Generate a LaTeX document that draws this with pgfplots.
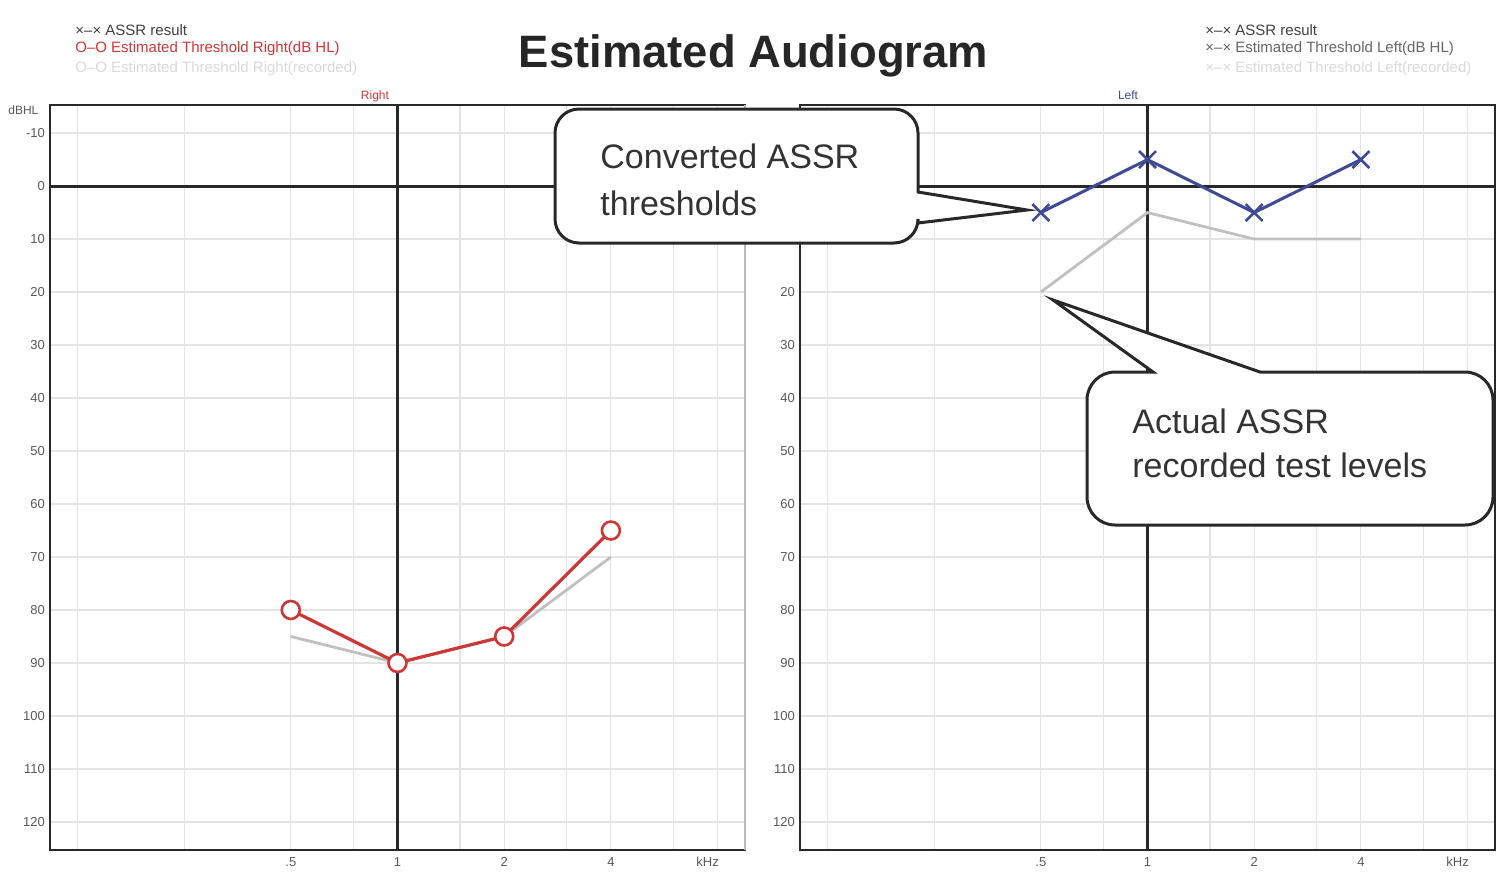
\documentclass[border=0pt]{standalone}
\usepackage{fontspec}
\setmainfont{Liberation Sans}
\usepackage{pgfplots}
\pgfplotsset{compat=1.18}

\definecolor{rightred}{RGB}{205,55,55}
\definecolor{leftblue}{RGB}{62,74,150}
\definecolor{recgray}{RGB}{192,192,192}
\definecolor{gridgray}{RGB}{228,228,228}
\definecolor{heavy}{RGB}{40,40,40}

\tikzset{refline/.style={heavy, line width=1.5pt}}

\begin{document}
\begin{tikzpicture}
\begin{scope}[x=0.5pt,y=-0.5pt]
  \path[use as bounding box] (0,0) rectangle (1499,894);
\end{scope}

% ---------- right ear ----------
\begin{axis}[
    at={(25pt,-425pt)}, anchor=south west,
    scale only axis, width=347.5pt, height=372.5pt,
    xmode=log, xmin=0.1046, xmax=9.56,
    ymin=-15.3, ymax=125.3, y dir=reverse,
    xtick={0.125,0.25,0.5,0.75,1,1.5,2,3,4,6,8}, xticklabels={},
    extra x ticks={0.5,1,2,4,7.5},
    extra x tick labels={.5,1,2,4,kHz},
    extra x tick style={grid=none},
    ytick={-10,0,...,120},
    yticklabels={-10,0,10,20,30,40,50,60,70,80,90,100,110,120},
    major tick length=0pt,
    xmajorgrids, ymajorgrids,
    major grid style={gridgray, line width=0.6pt},
    axis line style={heavy, line width=1.3pt},
    tick label style={font=\fontsize{6.5}{7}\selectfont, text=black!65},
    yticklabel style={xshift=1pt},
    clip=false,
  ]
  \draw[refline] (axis cs:0.1046,0) -- (axis cs:9.56,0);
  \draw[refline] (axis cs:1,-15.3) -- (axis cs:1,125.3);
  \draw[gray!55, line width=1.3pt] (rel axis cs:1,0) -- (rel axis cs:1,1);
  \addplot[recgray, line width=1.4pt] coordinates {(0.5,85) (1,90) (2,85) (4,70)};
  \addplot[rightred, line width=1.6pt, mark=*, mark size=4.5pt,
           mark options={fill=white, draw=rightred, line width=1.3pt}]
    coordinates {(0.5,80) (1,90) (2,85) (4,65)};
\end{axis}

% ---------- left ear ----------
\begin{axis}[
    at={(400pt,-425pt)}, anchor=south west,
    scale only axis, width=347.5pt, height=372.5pt,
    xmode=log, xmin=0.1046, xmax=9.56,
    ymin=-15.3, ymax=125.3, y dir=reverse,
    xtick={0.125,0.25,0.5,0.75,1,1.5,2,3,4,6,8}, xticklabels={},
    extra x ticks={0.5,1,2,4,7.5},
    extra x tick labels={.5,1,2,4,kHz},
    extra x tick style={grid=none},
    ytick={-10,0,...,120},
    yticklabels={-10,0,10,20,30,40,50,60,70,80,90,100,110,120},
    major tick length=0pt,
    xmajorgrids, ymajorgrids,
    major grid style={gridgray, line width=0.6pt},
    axis line style={heavy, line width=1.3pt},
    tick label style={font=\fontsize{6.5}{7}\selectfont, text=black!65},
    yticklabel style={xshift=1pt},
    clip=false,
  ]
  \draw[refline] (axis cs:0.1046,0) -- (axis cs:9.56,0);
  \draw[refline] (axis cs:1,-15.3) -- (axis cs:1,125.3);
  \addplot[recgray, line width=1.4pt] coordinates {(0.5,20) (1,5) (2,10) (4,10)};
  \addplot[leftblue, line width=1.5pt, mark=x, mark size=6pt,
           mark options={line width=1.3pt}]
    coordinates {(0.5,5) (1,-5) (2,5) (4,-5)};
\end{axis}

\begin{scope}[x=0.5pt,y=-0.5pt]
  % title and panel captions
  \node[anchor=base, font=\bfseries\fontsize{22.7}{26}\selectfont, text=black!85]
    at (753.5,67) {Estimated Audiogram};
  \node[anchor=base, font=\fontsize{6}{7}\selectfont, text=rightred] at (375,99) {Right};
  \node[anchor=base, font=\fontsize{6}{7}\selectfont, text=leftblue] at (1128,99) {Left};
  \node[anchor=base west, font=\fontsize{6}{7}\selectfont, text=black!65, inner sep=0pt] at (8,114) {dBHL};

  % keys
  \begin{scope}[every node/.style={anchor=base west, inner sep=0pt, font=\fontsize{7.5}{8}\selectfont}]
    \node[text=black!75] at (75,35) {×–× ASSR result};
    \node[text=rightred] at (75,53) {O–O Estimated Threshold Right(dB HL)};
    \node[text=black!15] at (75,72) {O–O Estimated Threshold Right(recorded)};
    \node[text=black!75] at (1205,35) {×–× ASSR result};
    \node[text=black!60] at (1205,53) {×–× Estimated Threshold Left(dB HL)};
    \node[text=black!15] at (1205,72) {×–× Estimated Threshold Left(recorded)};
  \end{scope}

  % callouts: pointer joints stay sharp, box corners are rounded
  \draw[heavy, line width=1.5pt, fill=white]
    (1027,210) -- (918,223) [rounded corners=12pt] -- (918,243) -- (555,243)
    -- (555,109) -- (918,109) [sharp corners] -- (918,192) -- cycle;
  \draw[heavy, line width=1.5pt, fill=white]
    (1053,300) -- (1260,372) [rounded corners=14pt] -- (1493,372) -- (1493,525)
    -- (1087,525) -- (1087,372) [sharp corners] -- (1153,372) -- cycle;
  \begin{scope}[every node/.style={anchor=base west, inner sep=0pt, text=black!80, font=\fontsize{17}{20}\selectfont}]
    \node at (600,168) {Converted ASSR};
    \node at (600,215) {thresholds};
    \node at (1132,433) {Actual ASSR};
    \node at (1132,477) {recorded test levels};
  \end{scope}
\end{scope}
\end{tikzpicture}
\end{document}
